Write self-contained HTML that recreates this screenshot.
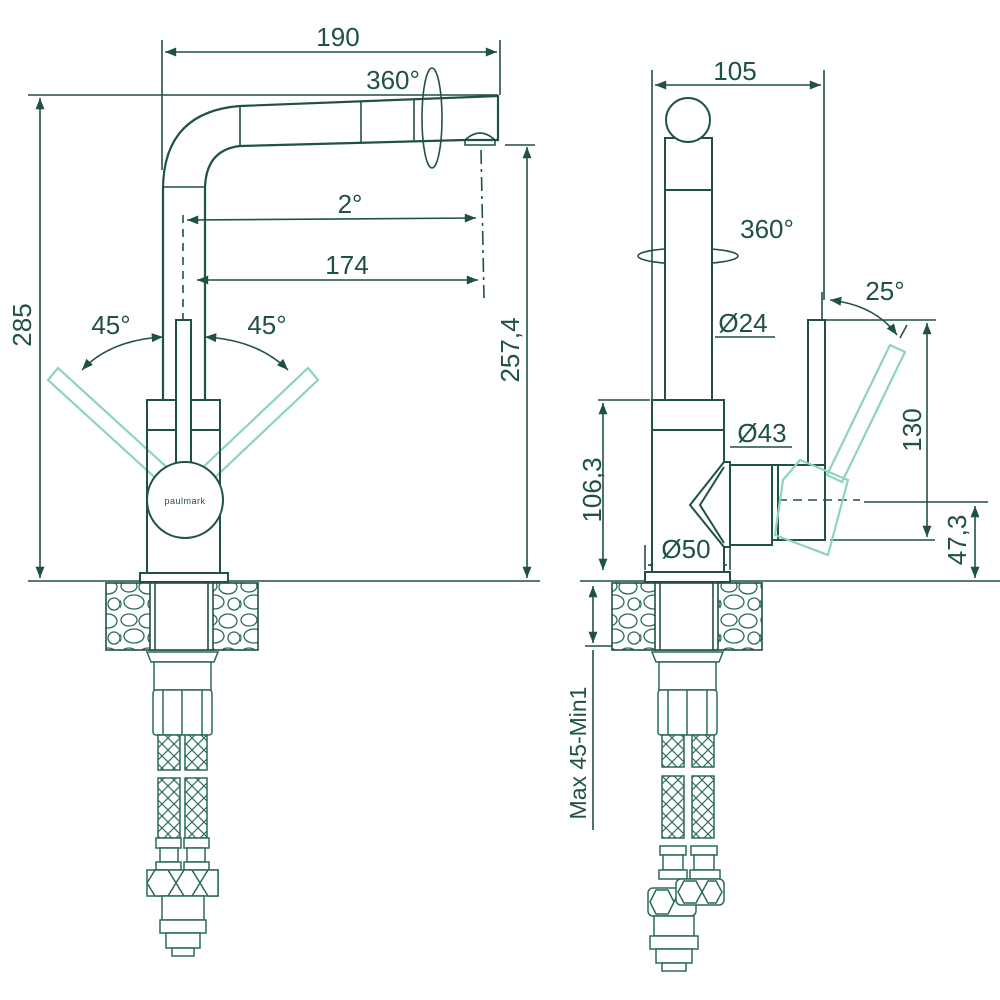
<!DOCTYPE html>
<html><head><meta charset="utf-8"><style>
html,body{margin:0;padding:0;background:#fff}
svg{display:block}
text{font-family:"Liberation Sans",sans-serif;fill:#1f5144;font-size:26px}
</style></head><body>
<svg width="1000" height="1000" viewBox="0 0 1000 1000" xmlns="http://www.w3.org/2000/svg">
<defs>
<marker id="a" viewBox="0 0 10 10" refX="10" refY="5" markerWidth="9" markerHeight="7" orient="auto-start-reverse"><path d="M0,1 L10,5 L0,9 z" fill="#1f5144"/></marker>
<pattern id="st" width="40" height="34" patternUnits="userSpaceOnUse">
<rect width="40" height="34" fill="#fff"/>
<g fill="none" stroke="#2a6a58" stroke-width="1.3">
<ellipse cx="9" cy="8" rx="8" ry="6"/><ellipse cx="28" cy="9" rx="9" ry="7"/><ellipse cx="14" cy="24" rx="10" ry="7"/><ellipse cx="34" cy="26" rx="6" ry="6"/><ellipse cx="-3" cy="26" rx="4" ry="5"/></g></pattern>
<pattern id="br" width="12" height="12" patternUnits="userSpaceOnUse">
<rect width="12" height="12" fill="#fff"/>
<path d="M0,6 L6,0 M6,12 L12,6 M0,6 L6,12 M6,0 L12,6" stroke="#2a6a58" stroke-width="1.2" fill="none"/></pattern>
</defs>
<g fill="none" stroke="#1f5144" stroke-width="1.6">
<line x1="162" y1="40" x2="162" y2="170"/><line x1="500" y1="40" x2="500" y2="95"/>
<line x1="165" y1="52" x2="497" y2="52" marker-start="url(#a)" marker-end="url(#a)"/>
<line x1="28" y1="95" x2="498" y2="95"/>
<line x1="40" y1="98" x2="40" y2="578" marker-start="url(#a)" marker-end="url(#a)"/>
<line x1="28" y1="581" x2="540" y2="581"/>
<line x1="580" y1="581" x2="1000" y2="581"/>
<path d="M163,400 L163,190 Q163,112 240,106 L498,96 L498,140 L465,140 L240,146 Q205,150 205,190 L205,400" stroke-width="2.2"/>
<line x1="163" y1="187" x2="205" y2="187"/>
<line x1="240" y1="106" x2="240" y2="146"/><line x1="361" y1="101" x2="361" y2="143"/><line x1="414" y1="99" x2="414" y2="141"/>
<path d="M465,145 L465,140 Q480,126 495,140 L495,145 Z"/>
<line x1="505" y1="145" x2="535" y2="145"/>
<ellipse cx="432" cy="118" rx="10" ry="50"/>
<line x1="183" y1="215" x2="183" y2="320" stroke-dasharray="8,6"/>
<line x1="481" y1="150" x2="484" y2="298" stroke-dasharray="14,5,3,5"/>
<line x1="187" y1="220" x2="476" y2="218" marker-start="url(#a)" marker-end="url(#a)"/>
<line x1="197" y1="280" x2="478" y2="280" marker-start="url(#a)" marker-end="url(#a)"/>
<line x1="527" y1="147" x2="527" y2="578" marker-start="url(#a)" marker-end="url(#a)"/>
<path d="M163,337 Q110,340 82,370" marker-start="url(#a)" marker-end="url(#a)"/>
<path d="M205,337 Q258,340 288,370" marker-start="url(#a)" marker-end="url(#a)"/>
</g>
<g fill="none" stroke="#8ed3bf" stroke-width="2.2">
<path d="M48,380 L58,368 L172,472 L162,484 Z"/>
<path d="M318,380 L308,368 L198,472 L208,484 Z"/>
</g>
<g fill="none" stroke="#1f5144" stroke-width="2">
<rect x="147" y="400" width="73" height="174" fill="none"/>
<line x1="147" y1="430" x2="220" y2="430"/>
<rect x="176" y="320" width="15" height="150" fill="#fff"/>
<circle cx="185" cy="500" r="38" fill="#fff"/>
<rect x="140" y="573" width="88" height="9" fill="#fff"/>
</g>
<text x="185" y="504" text-anchor="middle" style="font-size:9px;letter-spacing:.5px">paulmark</text>
<g stroke="#1f5144" stroke-width="1.6">
<rect x="106" y="583" width="152" height="67" fill="url(#st)"/>
<rect x="150" y="583" width="63" height="67" fill="#fff"/>
<line x1="155" y1="583" x2="155" y2="650"/><line x1="208" y1="583" x2="208" y2="650"/>
</g>
<g fill="#fff" stroke="#2a6a58" stroke-width="1.5">
<path d="M147,652 L218,652 L214,662 L151,662 Z"/>
<rect x="154" y="662" width="57" height="28"/>
<rect x="153" y="690" width="59" height="45" rx="3"/>
<line x1="182" y1="690" x2="182" y2="735"/><line x1="163" y1="690" x2="163" y2="735"/><line x1="202" y1="690" x2="202" y2="735"/>
<rect x="158" y="735" width="22" height="35" fill="url(#br)"/><rect x="185" y="735" width="22" height="35" fill="url(#br)"/>
<rect x="158" y="778" width="22" height="60" fill="url(#br)"/><rect x="185" y="778" width="22" height="60" fill="url(#br)"/>
<rect x="156" y="838" width="25" height="10"/><rect x="184" y="838" width="25" height="10"/>
<rect x="160" y="848" width="18" height="14"/><rect x="187" y="848" width="18" height="14"/>
<rect x="156" y="862" width="25" height="8"/><rect x="184" y="862" width="25" height="8"/>
<path d="M147,870 L218,870 L218,896 L147,896 Z"/>
<path d="M147,883 L155,870 L168,870 L176,883 L168,896 L155,896 Z M176,883 L184,870 L192,870 L200,883 L192,896 L184,896 Z M200,883 L208,870 L218,870 L218,896 L208,896 Z"/>
<rect x="162" y="896" width="42" height="24"/>
<rect x="160" y="920" width="46" height="13"/>
<rect x="166" y="933" width="34" height="15"/>
<rect x="172" y="948" width="22" height="8"/>
</g>
<g fill="none" stroke="#1f5144" stroke-width="1.6">
<line x1="652" y1="70" x2="652" y2="400"/><line x1="824" y1="70" x2="824" y2="300"/>
<line x1="655" y1="85" x2="821" y2="85" marker-start="url(#a)" marker-end="url(#a)"/>
<ellipse cx="688" cy="256" rx="50" ry="8"/>
<line x1="668" y1="337" x2="710" y2="337" marker-start="url(#a)" marker-end="url(#a)"/>
<line x1="715" y1="337" x2="775" y2="337"/>
<line x1="655" y1="447" x2="720" y2="447" marker-start="url(#a)" marker-end="url(#a)"/>
<line x1="730" y1="447" x2="792" y2="447"/>
<line x1="598" y1="400" x2="650" y2="400"/>
<line x1="603" y1="403" x2="603" y2="570" marker-start="url(#a)" marker-end="url(#a)"/>
<line x1="645" y1="545" x2="645" y2="570"/><line x1="730" y1="545" x2="730" y2="570"/>
<line x1="648" y1="565" x2="727" y2="565" marker-start="url(#a)" marker-end="url(#a)"/>
<line x1="593" y1="586" x2="593" y2="643" marker-start="url(#a)" marker-end="url(#a)"/>
<line x1="585" y1="646" x2="650" y2="646"/>
<line x1="593" y1="650" x2="593" y2="830"/>
<line x1="822" y1="292" x2="822" y2="320"/>
<path d="M830,300 Q875,305 897,335" marker-start="url(#a)" marker-end="url(#a)"/>
<line x1="900" y1="338" x2="907" y2="325"/>
<line x1="826" y1="320" x2="936" y2="320"/>
<line x1="927" y1="323" x2="927" y2="537" marker-start="url(#a)" marker-end="url(#a)"/>
<line x1="830" y1="540" x2="935" y2="540"/>
<line x1="864" y1="502" x2="988" y2="502"/>
<line x1="975" y1="506" x2="975" y2="578" marker-start="url(#a)" marker-end="url(#a)"/>
</g>
<g fill="#fff" stroke="#1f5144" stroke-width="2">
<rect x="665" y="138" width="47" height="262"/>
<line x1="665" y1="190" x2="712" y2="190"/>
<circle cx="688" cy="120" r="22"/>
<rect x="652" y="400" width="72" height="172"/>
<line x1="652" y1="430" x2="724" y2="430"/>
<path d="M724,462 L690,505 L724,547 L730,547 L730,462 Z" fill="#fff"/>
<path d="M724,467 L700,505 L724,543" fill="none"/>
<rect x="730" y="465" width="42" height="80" fill="#fff"/>
<rect x="772" y="465" width="6" height="75"/>
<rect x="778" y="465" width="47" height="75"/>
<rect x="808" y="320" width="17" height="145"/>
<rect x="645" y="572" width="85" height="10"/>
</g>
<line x1="778" y1="500" x2="860" y2="500" stroke="#1f5144" stroke-width="1.6" stroke-dasharray="9,6"/>
<g fill="none" stroke="#8ed3bf" stroke-width="2.2">
<path d="M890,345 L905,352 L842,482 L827,475 Z"/>
<path d="M800,460 L848,480 L828,555 L775,535 L783,480 Z"/>
</g>
<g stroke="#1f5144" stroke-width="1.6">
<rect x="612" y="583" width="150" height="67" fill="url(#st)"/>
<rect x="655" y="583" width="63" height="67" fill="#fff"/>
<line x1="660" y1="583" x2="660" y2="650"/><line x1="713" y1="583" x2="713" y2="650"/>
</g>
<g fill="#fff" stroke="#2a6a58" stroke-width="1.5">
<path d="M652,652 L723,652 L719,662 L656,662 Z"/>
<rect x="659" y="662" width="57" height="28"/>
<rect x="658" y="690" width="59" height="45" rx="3"/>
<line x1="687" y1="690" x2="687" y2="735"/><line x1="668" y1="690" x2="668" y2="735"/><line x1="707" y1="690" x2="707" y2="735"/>
<rect x="662" y="735" width="22" height="32" fill="url(#br)"/><rect x="692" y="735" width="22" height="32" fill="url(#br)"/>
<rect x="662" y="776" width="22" height="62" fill="url(#br)"/><rect x="692" y="776" width="22" height="62" fill="url(#br)"/>
<rect x="660" y="846" width="26" height="9"/><rect x="691" y="846" width="26" height="9"/>
<rect x="663" y="855" width="20" height="15"/><rect x="694" y="855" width="20" height="15"/>
<rect x="659" y="870" width="28" height="9"/><rect x="690" y="870" width="30" height="9"/>
<rect x="648" y="888" width="48" height="28" rx="5"/>
<path d="M650,902 L656,890 L668,890 L674,902 L668,914 L656,914 Z M674,902 L680,890 L690,890 L696,902"/>
<rect x="676" y="879" width="48" height="26" rx="5"/>
<path d="M678,892 L684,881 L696,881 L702,892 L696,903 L684,903 Z M702,892 L708,881 L716,881 L722,892 L716,903 L708,903 Z"/>
<rect x="654" y="916" width="40" height="20"/>
<rect x="650" y="936" width="48" height="13"/>
<rect x="656" y="949" width="36" height="14"/>
<rect x="662" y="963" width="24" height="8"/>
</g>
<text x="338" y="46" text-anchor="middle">190</text>
<text x="393" y="89" text-anchor="middle">360°</text>
<text x="350" y="213" text-anchor="middle">2°</text>
<text x="347" y="274" text-anchor="middle">174</text>
<text x="111" y="334" text-anchor="middle">45°</text>
<text x="267" y="334" text-anchor="middle">45°</text>
<text transform="translate(31,325) rotate(-90)" text-anchor="middle">285</text>
<text transform="translate(519,350) rotate(-90)" text-anchor="middle">257,4</text>
<text x="735" y="80" text-anchor="middle">105</text>
<text x="767" y="238" text-anchor="middle">360°</text>
<text x="743" y="332" text-anchor="middle">Ø24</text>
<text x="762" y="442" text-anchor="middle">Ø43</text>
<text x="686" y="558" text-anchor="middle">Ø50</text>
<text x="885" y="300" text-anchor="middle">25°</text>
<text transform="translate(921,430) rotate(-90)" text-anchor="middle">130</text>
<text transform="translate(966,540) rotate(-90)" text-anchor="middle">47,3</text>
<text transform="translate(601,490) rotate(-90)" text-anchor="middle">106,3</text>
<text transform="translate(586,753) rotate(-90)" text-anchor="middle" style="font-size:23px">Max 45-Min1</text>
</svg>
</body></html>
